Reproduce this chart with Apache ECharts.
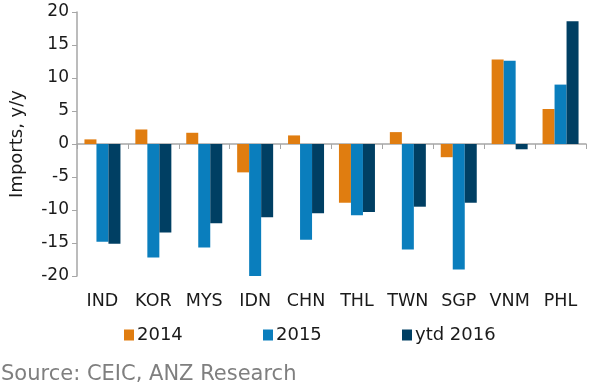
<!DOCTYPE html>
<html><head><meta charset="utf-8">
<script src="https://cdn.jsdelivr.net/npm/echarts@6/dist/echarts.min.js"></script>
<style>html,body{margin:0;padding:0;background:#fff}#c{width:600px;height:389px}</style>
</head><body><div id="c"></div>
<script>
const categories = ['IND','KOR','MYS','IDN','CHN','THL','TWN','SGP','VNM','PHL'];
const s2014 = [0.7, 2.2, 1.7, -4.3, 1.3, -8.9, 1.8, -2.0, 12.8, 5.3];
const s2015 = [-14.8, -17.2, -15.7, -20.0, -14.5, -10.8, -16.0, -19.0, 12.6, 9.0];
const sYtd2016 = [-15.1, -13.4, -12.0, -11.1, -10.5, -10.3, -9.5, -8.9, -0.8, 18.6];
const seriesNames = ['2014', '2015', 'ytd 2016'];
const colors = ['#E07D10', '#0A7EBD', '#003F63'];
const font = 'DejaVu Sans';
const txt = '#1a1a1a';
const chart = echarts.init(document.getElementById('c'));
const legendPos = [124, 263, 402];
chart.setOption({
  animation: false,
  textStyle: {fontFamily: font},
  grid: {left: 71, right: 14, top: 12, bottom: 113, containLabel: false},
  legend: seriesNames.map((n, i) => ({
    data: [n], left: legendPos[i], top: 326, padding: 0, itemWidth: 10, itemHeight: 11, itemGap: 0,
    icon: 'rect', textStyle: {fontFamily: font, fontSize: 18, color: txt, padding: [0,0,0,-2]}
  })),
  graphic: [{type: 'text', left: 1, top: 364, style: {text: 'Source: CEIC, ANZ Research', fontFamily: font, fontSize: 21, fill: '#7f7f7f'}}],
  xAxis: [{
    type: 'category', data: categories,
    axisLine: {onZero: true, lineStyle: {color: '#a6a6a6', width: 1.5}},
    axisTick: {show: true, alignWithLabel: false, length: 5, lineStyle: {color: '#a6a6a6'}},
    axisLabel: {show: false}
  }, {
    type: 'category', data: categories, position: 'bottom',
    axisLine: {show: false, onZero: false}, axisTick: {show: false},
    axisLabel: {fontFamily: font, fontSize: 17.5, color: txt, margin: 16, interval: 0, hideOverlap: false}
  }],
  yAxis: {
    type: 'value', min: -20, max: 20, interval: 5,
    name: 'Imports, y/y', nameLocation: 'middle', nameGap: 51, nameRotate: 90,
    nameTextStyle: {fontFamily: font, fontSize: 18, color: txt},
    axisLine: {show: true, lineStyle: {color: '#a6a6a6', width: 1.5}},
    axisTick: {show: true, length: 5, lineStyle: {color: '#a6a6a6'}},
    axisLabel: {fontFamily: font, fontSize: 17, color: txt, margin: 8},
    splitLine: {show: false}
  },
  series: [
    {name: seriesNames[0], type: 'bar', data: s2014, itemStyle: {color: colors[0]}, barWidth: 12, barGap: 0},
    {name: seriesNames[1], type: 'bar', data: s2015, itemStyle: {color: colors[1]}, barWidth: 12, barGap: 0},
    {name: seriesNames[2], type: 'bar', data: sYtd2016, itemStyle: {color: colors[2]}, barWidth: 12, barGap: 0}
  ]
});
</script></body></html>
